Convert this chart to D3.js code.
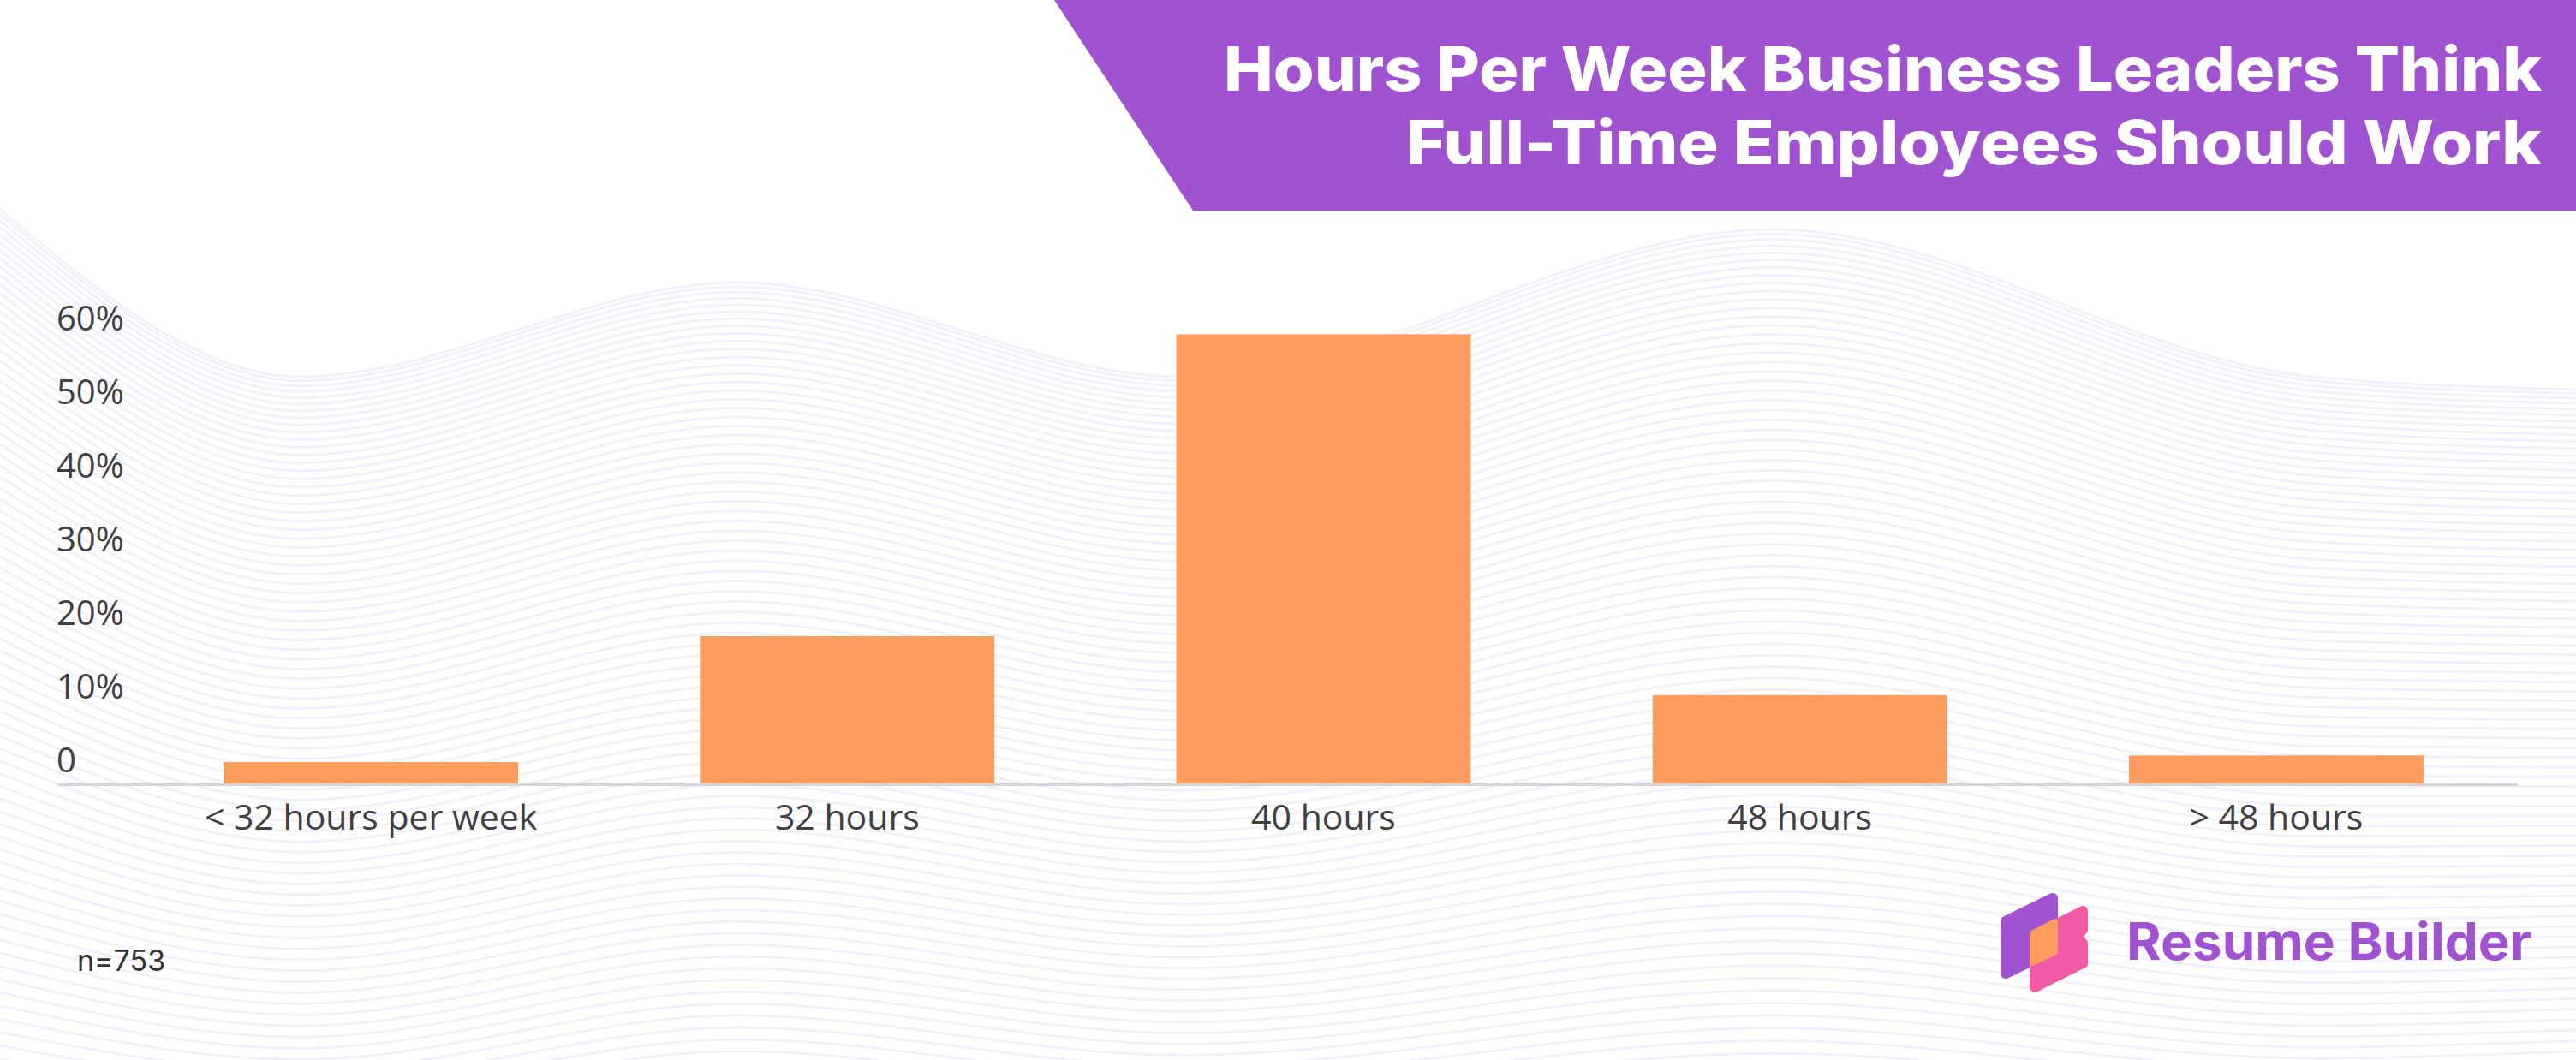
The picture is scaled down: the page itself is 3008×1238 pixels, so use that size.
<!DOCTYPE html>
<html>
<head>
<meta charset="utf-8">
<script src="https://cdnjs.cloudflare.com/ajax/libs/d3/7.8.5/d3.min.js"></script>
<style>
  html, body { margin: 0; padding: 0; background: #ffffff; }
  svg { display: block; }
</style>
</head>
<body>
<svg id="chart" width="3008" height="1238"></svg>
<script>
// ---- data ----
const categories = ["< 32 hours per week", "32 hours", "40 hours", "48 hours", "> 48 hours"];
const values = [0.029, 0.20, 0.61, 0.12, 0.038];
const yTicks = [0, 0.1, 0.2, 0.3, 0.4, 0.5, 0.6];
const yTickLabels = ["0", "10%", "20%", "30%", "40%", "50%", "60%"];
const titleLines = ["Hours Per Week Business Leaders Think", "Full-Time Employees Should Work"];
const sampleNote = "n=753";
const brandName = "Resume Builder";

// ---- styles ----
const W = 3008, H = 1238;
const barColor = "#fc9d60";
const purple = "#a052d0";
const pink = "#f15ba6";
const orange = "#fc9d5f";
const textColor = "#404040";
const axisFont = "'Open Sans', 'Noto Sans', sans-serif";

const svg = d3.select("#chart");

// ---- background wave lines ----
const bg = svg.append("g");
const cx = [0, 350, 860, 1380, 2070, 2700, 3008];
const topY = [245, 440, 330, 440, 268, 440, 455];
const botY = [1300, 1330, 1270, 1310, 1260, 1300, 1290];
const waveLine = d3.line().curve(d3.curveMonotoneX);
const N = 80;
for (let k = 0; k <= N; k++) {
  const t = Math.pow(k / N, 1.2);
  const pts = cx.map((x, i) => [x, topY[i] + (botY[i] - topY[i]) * t]);
  bg.append("path")
    .attr("d", waveLine(pts))
    .attr("fill", "none")
    .attr("stroke", "#f2f0fa")
    .attr("stroke-width", 3);
}

// ---- title banner ----
svg.append("polygon")
  .attr("points", [[1231, 0], [W, 0], [W, 246], [1393, 246]].map(p => p.join(",")).join(" "))
  .attr("fill", purple);

const titleBase = [106, 192];
const titleWidths = [1539, 1326];
titleLines.forEach((t, i) => {
  svg.append("text")
    .attr("x", 2968)
    .attr("y", titleBase[i])
    .attr("text-anchor", "end")
    .attr("font-family", "Inter, 'Noto Sans', sans-serif")
    .attr("font-weight", 800)
    .attr("font-size", 71)
    .attr("fill", "#ffffff")
    .attr("textLength", titleWidths[i])
    .attr("lengthAdjust", "spacingAndGlyphs")
    .text(t);
});

// ---- scales ----
const x = d3.scaleBand()
  .domain(categories)
  .range([155, 2936])
  .paddingInner(0.3816)
  .paddingOuter(0.1908);

const y = d3.scaleLinear()
  .domain([0, 0.6])
  .range([915, 399]);

// ---- bars ----
svg.append("g")
  .selectAll("rect")
  .data(values)
  .join("rect")
  .attr("x", (d, i) => x(categories[i]))
  .attr("width", x.bandwidth())
  .attr("y", d => y(d))
  .attr("height", d => y(0) - y(d))
  .attr("fill", barColor);

// ---- axis baseline ----
svg.append("line")
  .attr("x1", 68).attr("x2", 2940)
  .attr("y1", 916.5).attr("y2", 916.5)
  .attr("stroke", "#d6d3da")
  .attr("stroke-width", 3);

// ---- y axis (labels only, left aligned) ----
const yAxis = svg.append("g")
  .attr("transform", "translate(66,0)")
  .call(d3.axisRight(y)
    .tickValues(yTicks)
    .tickFormat((d, i) => yTickLabels[i])
    .tickSize(0)
    .tickPadding(0));
yAxis.select(".domain").remove();
yAxis.selectAll("text")
  .attr("dy", "-0.34em")
  .attr("font-family", axisFont)
  .attr("font-size", 40)
  .attr("fill", textColor);

// ---- x axis labels ----
const xAxis = svg.append("g")
  .attr("transform", "translate(0,916)")
  .call(d3.axisBottom(x).tickSize(0).tickPadding(24));
xAxis.select(".domain").remove();
xAxis.selectAll("text")
  .attr("font-family", axisFont)
  .attr("font-size", 41)
  .attr("fill", textColor);

// ---- sample note ----
svg.append("text")
  .attr("x", 90).attr("y", 1134)
  .attr("font-family", "Inter, Roboto, sans-serif")
  .attr("font-size", 34)
  .attr("fill", "#333333")
  .text(sampleNote);

// ---- logo ----
const logo = svg.append("g");
const purpleShape = [[2342, 1076], [2397, 1049], [2397, 1110], [2342, 1137]];
const pinkShape = [[2376, 1092], [2432, 1064], [2432, 1086], [2425, 1094], [2432, 1102], [2432, 1125], [2376, 1153]];
const orangeShape = [[2373, 1090], [2400, 1076], [2400, 1112], [2373, 1125]];
[[purpleShape, purple], [pinkShape, pink], [orangeShape, orange]].forEach(([pts, c]) => {
  logo.append("polygon")
    .attr("points", pts.map(p => p.join(",")).join(" "))
    .attr("fill", c)
    .attr("stroke", c)
    .attr("stroke-width", c === orange ? 6 : 12)
    .attr("stroke-linejoin", "round");
});

svg.append("text")
  .attr("x", 2483).attr("y", 1121)
  .attr("font-family", "Inter, 'Noto Sans', sans-serif")
  .attr("font-weight", 700)
  .attr("font-size", 60)
  .attr("fill", purple)
  .attr("textLength", 473)
  .attr("lengthAdjust", "spacingAndGlyphs")
  .text(brandName);
</script>
</body>
</html>
